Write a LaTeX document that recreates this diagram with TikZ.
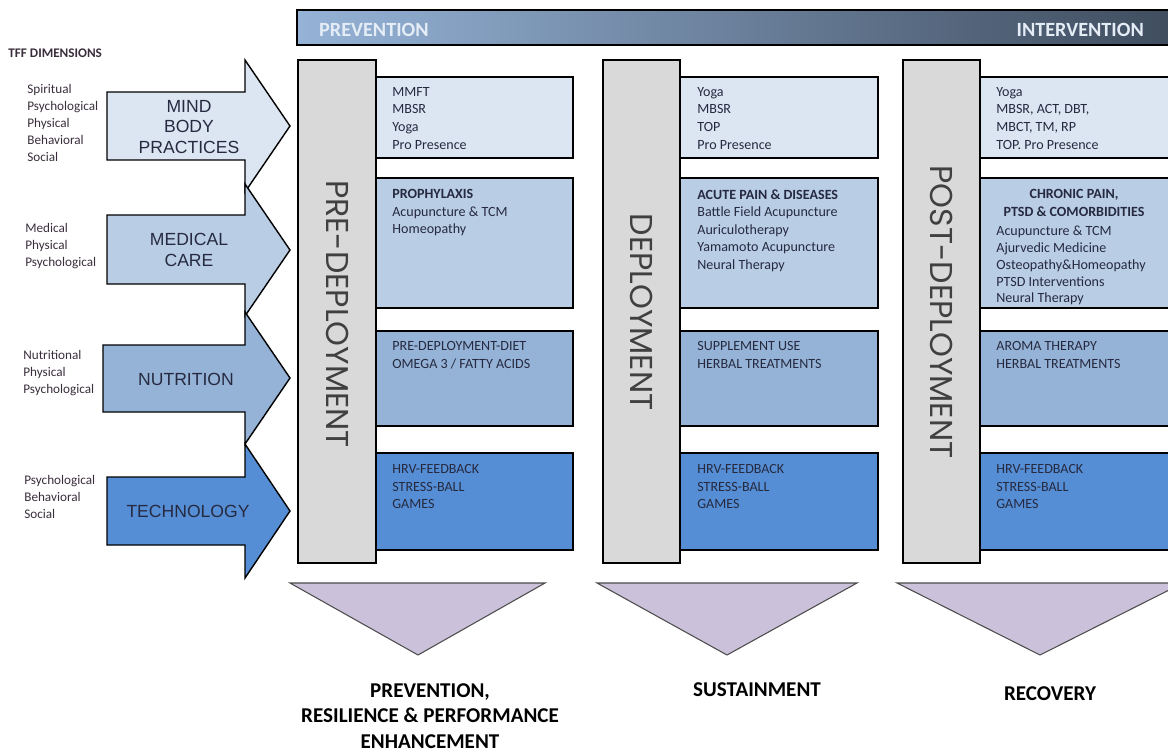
\documentclass[tikz,border=0pt]{standalone}
\usepackage{fontspec}
\setmainfont{Carlito}
\newfontfamily\arialfont{Liberation Sans}
\newfontfamily\gothicfont{Poppins}
\usepackage{tikz}

\definecolor{rowA}{HTML}{DCE6F2}
\definecolor{rowB}{HTML}{B9CDE5}
\definecolor{rowC}{HTML}{95B3D7}
\definecolor{rowD}{HTML}{558ED5}
\definecolor{barGray}{HTML}{D9D9D9}
\definecolor{wedgeCol}{HTML}{CCC1DA}
\definecolor{barLeft}{HTML}{95B3D7}
\definecolor{barRight}{HTML}{3F4C5E}
\definecolor{dimCol}{HTML}{3A2E3C}
\definecolor{cellTxt}{HTML}{262A40}
\definecolor{phaseCol}{HTML}{404040}
\definecolor{topTxt}{HTML}{E4ECF6}

\tikzset{
	dimtext/.style={anchor=north west, align=left, inner sep=0pt, text=dimCol, font=\fontsize{7.5}{9.7}\selectfont},
	arrowlbl/.style={align=center, text=cellTxt, font=\arialfont\fontsize{10}{11.5}\selectfont},
	dimarrow/.style={draw=black, line width=0.8pt},
	phasebar/.style={draw=black, fill=barGray, line width=0.8pt},
	cell/.style={draw=black, line width=0.8pt},
	celltext/.style={anchor=north west, align=left, inner sep=0pt, text=cellTxt, font=\fontsize{8}{10}\selectfont},
	phase/.style={rotate=-90, text=phaseCol, font=\gothicfont\fontsize{18}{18}\selectfont},
	wedge/.style={draw=black!70, fill=wedgeCol, line width=0.6pt},
	outcome/.style={anchor=north, align=center, font=\bfseries\fontsize{12}{14.6}\selectfont}
}

\begin{document}
\begin{tikzpicture}[x=0.02cm, y=-0.02cm]

	\useasboundingbox (0,0) rectangle (1168,751);
	\clip (0,0) rectangle (1168,751);

	% continuum bar
	\draw[line width=0.8pt, left color=barLeft, right color=barRight] (297,10) rectangle (1180,45);
	\node[anchor=west, text=topTxt, font=\bfseries\fontsize{11.5}{12}\selectfont] (prev) at (313,30) {PREVENTION};
	\node[anchor=east, text=topTxt, font=\bfseries\fontsize{11.5}{12}\selectfont] (interv) at (1150,30) {INTERVENTION};

	% dimensions
	\node[anchor=west, inner sep=0pt, text=dimCol, font=\bfseries\fontsize{7.5}{8}\selectfont] (tff) at (8,53) {TFF DIMENSIONS};

	\draw[dimarrow, fill=rowA] (107,92) -- (245,92) -- (245,60) -- (290,126) -- (245,192) -- (245,160) -- (107,160) -- cycle;
	\draw[dimarrow, fill=rowB] (107,215) -- (245,215) -- (245,184) -- (290,250) -- (245,316) -- (245,284) -- (107,284) -- cycle;
	\draw[dimarrow, fill=rowC] (103,345) -- (245,345) -- (245,312) -- (290,378) -- (245,444) -- (245,412) -- (103,412) -- cycle;
	\draw[dimarrow, fill=rowD] (107,477) -- (245,477) -- (245,444) -- (290,511) -- (245,578) -- (245,545) -- (107,545) -- cycle;

	\node[arrowlbl] (mind) at (189,127) {MIND\\BODY\\PRACTICES};
	\node[arrowlbl] (medical) at (189,250) {MEDICAL\\CARE};
	\node[arrowlbl] (nutrition) at (186,379) {NUTRITION};
	\node[arrowlbl] (techno) at (188,511) {TECHNOLOGY};

	\node[dimtext] (dimA) at (27,84) {Spiritual\\Psychological\\Physical\\Behavioral\\Social};
	\node[dimtext] (dimB) at (25,223) {Medical\\Physical\\Psychological};
	\node[dimtext] (dimC) at (23,350) {Nutritional\\Physical\\Psychological};
	\node[dimtext] (dimD) at (24,475) {Psychological\\Behavioral\\Social};

	% phase columns
	\draw[phasebar] (298,60) rectangle (376,563);
	\draw[phasebar] (603,60) rectangle (680,563);
	\draw[phasebar] (903,60) rectangle (980,563);
	\node[phase] (pre) at (338,314) {PRE-DEPLOYMENT};
	\node[phase] (dep) at (642,312) {DEPLOYMENT};
	\node[phase] (post) at (942,312) {POST-DEPLOYMENT};

	% cells, pre-deployment
	\draw[cell, fill=rowA] (376,77) rectangle (573,158);
	\draw[cell, fill=rowB] (376,178) rectangle (573,308);
	\draw[cell, fill=rowC] (376,331) rectangle (573,426);
	\draw[cell, fill=rowD] (376,453) rectangle (573,550);
	\node[celltext] (preA) at (392,87) {MMFT\\MBSR\\Yoga\\Pro Presence};
	\node[celltext] (preB) at (392,189) {\textbf{PROPHYLAXIS}\\Acupuncture \& TCM\\Homeopathy};
	\node[celltext] (preC) at (392,341) {PRE-DEPLOYMENT-DIET\\OMEGA 3 / FATTY ACIDS};
	\node[celltext] (preD) at (392,464) {HRV-FEEDBACK\\STRESS-BALL\\GAMES};

	% cells, deployment
	\draw[cell, fill=rowA] (680,77) rectangle (878,158);
	\draw[cell, fill=rowB] (680,178) rectangle (878,308);
	\draw[cell, fill=rowC] (680,331) rectangle (878,426);
	\draw[cell, fill=rowD] (680,453) rectangle (878,550);
	\node[celltext] (depA) at (697,87) {Yoga\\MBSR\\TOP\\Pro Presence};
	\node[celltext] (depB) at (697,189) {\textbf{ACUTE PAIN \& DISEASES}\\Battle Field Acupuncture\\Auriculotherapy\\Yamamoto Acupuncture\\Neural Therapy};
	\node[celltext] (depC) at (697,341) {SUPPLEMENT USE\\HERBAL TREATMENTS};
	\node[celltext] (depD) at (697,464) {HRV-FEEDBACK\\STRESS-BALL\\GAMES};

	% cells, post-deployment
	\draw[cell, fill=rowA] (980,77) rectangle (1180,158);
	\draw[cell, fill=rowB] (980,178) rectangle (1180,308);
	\draw[cell, fill=rowC] (980,331) rectangle (1180,426);
	\draw[cell, fill=rowD] (980,453) rectangle (1180,550);
	\node[celltext] (postA) at (996,87) {Yoga\\MBSR, ACT, DBT,\\MBCT, TM, RP\\TOP. Pro Presence};
	\node[celltext, anchor=north, align=center] (postHead) at (1074,189) {\textbf{CHRONIC PAIN,}\\\textbf{PTSD \& COMORBIDITIES}};
	\node[celltext, font=\fontsize{8}{9.5}\selectfont] (postB) at (996,226) {Acupuncture \& TCM\\Ajurvedic Medicine\\Osteopathy\&Homeopathy\\PTSD Interventions\\Neural Therapy};
	\node[celltext] (postC) at (996,341) {AROMA THERAPY\\HERBAL TREATMENTS};
	\node[celltext] (postD) at (996,464) {HRV-FEEDBACK\\STRESS-BALL\\GAMES};

	% outcomes
	\draw[wedge] (290,583) -- (545,583) -- (418,655) -- cycle;
	\draw[wedge] (597,583) -- (857,583) -- (727,655) -- cycle;
	\draw[wedge] (897,583) -- (1183,583) -- (1040,655) -- cycle;
	\node[outcome] (resil) at (430,677) {PREVENTION,\\RESILIENCE \& PERFORMANCE\\ENHANCEMENT};
	\node[outcome] (sustain) at (757,676) {SUSTAINMENT};
	\node[outcome] (recov) at (1050,680) {RECOVERY};

\end{tikzpicture}
\end{document}
